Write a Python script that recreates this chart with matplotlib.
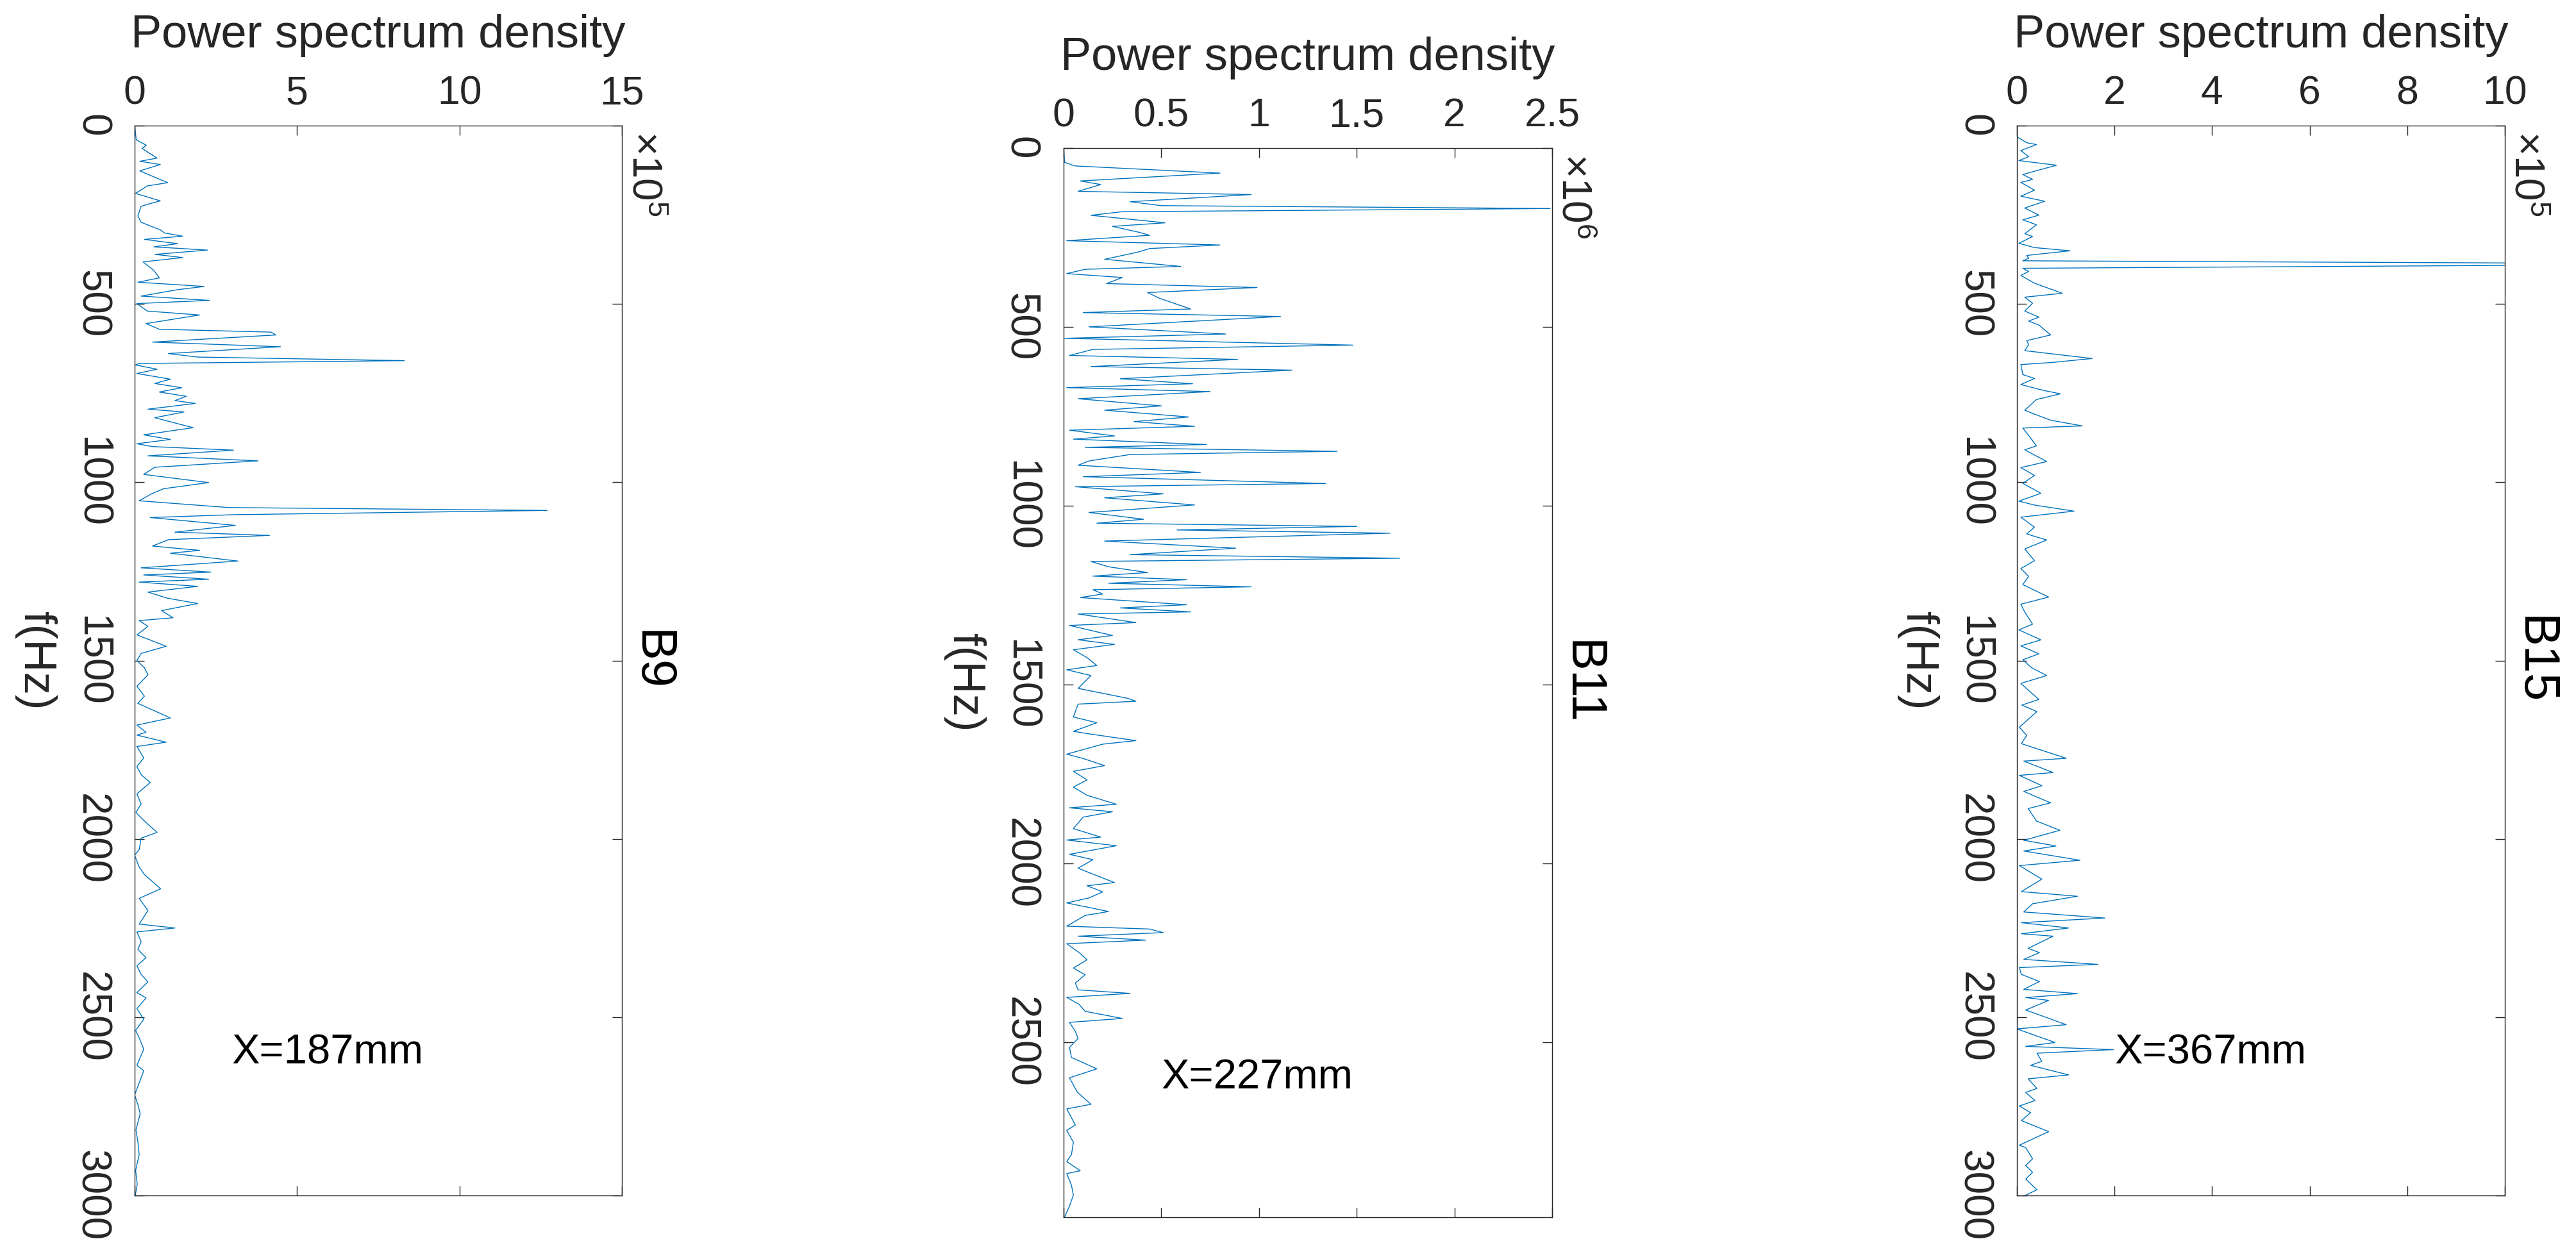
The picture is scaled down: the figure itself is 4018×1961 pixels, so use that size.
import matplotlib
matplotlib.use("Agg")
import matplotlib.pyplot as plt
import matplotlib.transforms as mtransforms

plt.rcParams['font.family'] = ['Liberation Sans', 'DejaVu Sans']
plt.rcParams['mathtext.fontset'] = 'custom'
plt.rcParams['mathtext.rm'] = 'Liberation Sans'
plt.rcParams['mathtext.it'] = 'Liberation Sans:italic'

# ---------------- data ----------------
# B9 (X=187mm): frequency (Hz) and PSD in units of 1e5
f_b9 = [0, 40, 55, 64, 91, 100, 109, 127, 160, 169, 190, 211, 226, 253, 271, 283, 292, 301, 310, 319,
        331, 340, 349, 361, 370, 382, 406, 427, 439, 451, 460, 478, 490, 499, 520, 531, 555, 571, 579, 587,
        607, 620, 639, 649, 659, 667, 671, 683, 695, 711, 723, 735, 747, 759, 771, 779, 795, 803, 819, 847,
        867, 880, 892, 900, 910, 926, 940, 958, 978, 1001, 1018, 1031, 1052, 1071, 1079, 1091, 1099, 1121,
        1140, 1149, 1161, 1179, 1191, 1199, 1221, 1240, 1252, 1260, 1272, 1280, 1292, 1308, 1325, 1340,
        1360, 1380, 1388, 1404, 1428, 1460, 1480, 1500, 1520, 1540, 1572, 1600, 1620, 1661, 1681, 1701,
        1709, 1729, 1741, 1773, 1797, 1820, 1842, 1874, 1902, 1926, 1950, 1982, 1998, 2030, 2046, 2079,
        2100, 2140, 2167, 2201, 2239, 2250, 2261, 2288, 2310, 2333, 2356, 2380, 2401, 2431, 2446, 2476,
        2506, 2537, 2560, 2590, 2635, 2650, 2677, 2718, 2745, 2771, 2816, 2850, 2885, 2930, 2968, 3000]
psd_b9 = [0, 0.05, 0.36, 0.23, 0.69, 0.16, 0.79, 0.16, 1.02, 0.39, 0.03, 0.79, 0.2, 0.1, 0.2, 0.53, 0.79, 0.92, 1.48, 0.3,
          1.32, 0.59, 2.24, 0.63, 1.48, 0.26, 0.59, 0.76, 0.1, 2.14, 1.32, 0.2, 2.3, 0.07, 0.39, 2.0, 0.35, 0.76, 4.2, 4.35,
          0.55, 4.49, 1.04, 1.94, 8.3, 0.14, 0.02, 0.69, 0.07, 1.1, 0.62, 1.45, 0.76, 1.59, 1.24, 1.87, 0.41, 1.52, 0.62, 1.8,
          0.28, 1.1, 0.07, 0.55, 3.04, 0.41, 3.8, 0.62, 0.28, 2.28, 0.9, 0.55, 0.14, 2.9, 12.7, 3.04, 0.48, 3.1,
          1.24, 4.15, 1.04, 0.55, 2.0, 1.1, 3.18, 0.2, 2.35, 0.28, 2.28, 0.14, 1.94, 0.41, 1.0, 1.94,
          0.83, 1.18, 0.14, 0.41, 0.07, 0.97, 0.2, 0.07, 0.3, 0.41, 0.07, 0.3, 0.1, 1.1, 0.07, 0.35,
          0.07, 0.97, 0.07, 0.28, 0.07, 0.2, 0.48, 0.07, 0.2, 0.04, 0.3, 0.69, 0.2, 0.14, 0.0, 0.14,
          0.3, 0.8, 0.14, 0.41, 0.14, 1.24, 0.07, 0.2, 0.1, 0.35, 0.07, 0.2, 0.41, 0.07, 0.35, 0.07,
          0.28, 0.03, 0.15, 0.28, 0.07, 0.28, 0.17, 0.0, 0.1, 0.17, 0.04, 0.1, 0.14, 0.03, 0.08, 0.02]

# B11 (X=227mm): frequency (Hz) and PSD in units of 1e6
f_b11 = [0, 40, 50, 70, 92, 102, 121, 130, 150, 161, 169, 178, 188, 209, 219, 236, 244, 259, 271, 281,
         291, 311, 331, 339, 351, 362, 379, 390, 404, 420, 450, 460, 471, 500, 520, 532, 551, 563, 580, 591,
         611, 621, 645, 659, 670, 681, 701, 721, 733, 752, 765, 778, 789, 805, 814, 829, 837, 848, 857, 875,
         887, 907, 919, 938, 947, 967, 978, 998, 1019, 1038, 1049, 1058, 1068, 1077, 1099, 1119, 1137, 1147,
         1156, 1171, 1187, 1197, 1207, 1217, 1227, 1235, 1247, 1257, 1277, 1286, 1297, 1303, 1327, 1335,
         1363, 1375, 1388, 1403, 1425, 1447, 1459, 1475, 1511, 1539, 1547, 1555, 1591, 1607, 1631, 1639,
         1657, 1667, 1695, 1707, 1727, 1743, 1767, 1787, 1810, 1835, 1845, 1856, 1871, 1903, 1927, 1935,
         1951, 1975, 1990, 2014, 2054, 2063, 2080, 2097, 2111, 2135, 2146, 2176, 2184, 2194, 2204, 2215,
         2225, 2250, 2270, 2293, 2312, 2335, 2354, 2364, 2375, 2395, 2414, 2434, 2445, 2470, 2490, 2515,
         2543, 2575, 2600, 2640, 2674, 2687, 2732, 2747, 2780, 2815, 2834, 2860, 2868, 2900, 2928, 2959, 2989]
psd_b11 = [0, 0.005, 0.06, 0.8, 0.085, 0.19, 0.074, 0.96, 0.34, 0.5, 2.49, 0.3, 0.14, 0.52, 0.25, 0.39, 0.44, 0.016, 0.8, 0.44,
           0.38, 0.21, 0.6, 0.11, 0.016, 0.3, 0.22, 0.99, 0.43, 0.49, 0.65, 0.1, 1.11, 0.13, 0.83, 0.005, 1.48, 0.15, 0.03, 0.89,
           0.14, 1.17, 0.29, 0.66, 0.016, 0.75, 0.074, 0.5, 0.21, 0.64, 0.36, 0.67, 0.03, 0.26, 0.05, 0.73, 0.11, 1.4, 0.34, 0.13,
           0.074, 0.7, 0.1, 1.34, 0.06, 0.51, 0.21, 0.67, 0.13, 0.41, 0.17, 1.5, 0.58, 1.67, 0.21, 0.88, 0.34, 1.72,
           0.14, 0.23, 0.43, 0.15, 0.63, 0.23, 0.96, 0.15, 0.2, 0.085, 0.63, 0.29, 0.65, 0.074, 0.37, 0.03,
           0.25, 0.074, 0.26, 0.05, 0.12, 0.17, 0.016, 0.14, 0.074, 0.33, 0.37, 0.074, 0.05, 0.17, 0.05, 0.14,
           0.37, 0.2, 0.016, 0.1, 0.21, 0.05, 0.12, 0.05, 0.12, 0.27, 0.03, 0.25, 0.1, 0.05, 0.19, 0.016,
           0.27, 0.03, 0.15, 0.074, 0.26, 0.12, 0.2, 0.13, 0.016, 0.23, 0.11, 0.016, 0.44, 0.51, 0.074, 0.42,
           0.016, 0.08, 0.12, 0.05, 0.11, 0.06, 0.074, 0.34, 0.016, 0.08, 0.11, 0.3, 0.03, 0.06, 0.074, 0.03,
           0.04, 0.17, 0.03, 0.07, 0.14, 0.016, 0.06, 0.016, 0.05, 0.04, 0.016, 0.085, 0.016, 0.04, 0.05, 0.03, 0.005]

# B15 (X=367mm): frequency (Hz) and PSD in units of 1e5
f_b15 = [0, 31, 48, 53, 70, 87, 98, 111, 137, 151, 159, 181, 198, 212, 231, 251, 264, 278, 303, 311,
         330, 342, 351, 364, 372, 379, 388, 400, 409, 420, 442, 470, 481, 498, 520, 537, 548, 559, 587, 603,
         614, 631, 653, 664, 670, 698, 709, 726, 742, 752, 768, 798, 809, 826, 842, 848, 876, 898, 909, 942,
         959, 981, 1003, 1031, 1053, 1064, 1081, 1098, 1126, 1145, 1162, 1187, 1220, 1242, 1264, 1287, 1322,
         1342, 1364, 1398, 1414, 1442, 1459, 1481, 1498, 1520, 1542, 1564, 1585, 1609, 1625, 1643, 1687,
         1710, 1733, 1774, 1782, 1814, 1822, 1851, 1867, 1899, 1915, 1950, 1976, 2004, 2020, 2034, 2060,
         2075, 2113, 2148, 2161, 2182, 2205, 2222, 2235, 2250, 2266, 2273, 2307, 2319, 2338, 2352, 2361,
         2380, 2400, 2422, 2434, 2445, 2453, 2480, 2521, 2533, 2571, 2582, 2591, 2601, 2624, 2635, 2662,
         2673, 2700, 2711, 2734, 2749, 2768, 2790, 2821, 2859, 2866, 2897, 2916, 2935, 2954, 2984, 3002]
psd_b15 = [0, 0, 0.2, 0.4, 0.08, 0.24, 0.04, 0.81, 0.12, 0.32, 0.08, 0.36, 0.08, 0.57, 0.16, 0.45, 0.12, 0.4, 0.16, 0.32,
           0.04, 0.36, 1.09, 0.2, 0.24, 0.12, 14.8, 0.12, 0.24, 0.08, 0.36, 0.93, 0.16, 0.32, 0.16, 0.45, 0.24, 0.45, 0.69, 0.2,
           0.24, 0.16, 1.54, 0.73, 0.08, 0.12, 0.36, 0.08, 0.53, 0.89, 0.4, 0.16, 0.36, 0.69, 1.34, 0.12, 0.28, 0.4, 0.16, 0.61,
           0.08, 0.36, 0.12, 0.49, 0.04, 0.36, 1.17, 0.08, 0.36, 0.2, 0.61, 0.16, 0.36, 0.08, 0.24, 0.12, 0.65,
           0.08, 0.16, 0.32, 0.04, 0.49, 0.08, 0.45, 0.12, 0.3, 0.61, 0.08, 0.25, 0.45, 0.1, 0.41, 0.05,
           0.2, 0.09, 1.01, 0.14, 0.74, 0.05, 0.51, 0.14, 0.69, 0.23, 0.4, 0.88, 0.14, 0.8, 0.14, 1.29,
           0.05, 0.51, 0.09, 1.24, 0.32, 0.14, 1.8, 0.09, 1.06, 0.09, 0.74, 0.23, 0.46, 0.14, 1.66, 0.05,
           0.09, 0.46, 0.14, 1.24, 0.18, 0.65, 0.18, 1.01, 0.0, 0.78, 0.18, 1.98, 0.41, 0.51, 0.28, 1.06,
           0.23, 0.41, 0.18, 0.37, 0.05, 0.28, 0.09, 0.65, 0.05, 0.18, 0.32, 0.18, 0.32, 0.18, 0.41, 0.14]

titles = ["B9", "B11", "B15"]
positions_text = ["X=187mm", "X=227mm", "X=367mm"]
exponents = [5, 6, 5]
x_ticks = [[0, 5, 10, 15], [0, 0.5, 1, 1.5, 2, 2.5], [0, 2, 4, 6, 8, 10]]
x_ticklabels = [["0", "5", "10", "15"], ["0", "0.5", "1", "1.5", "2", "2.5"],
                ["0", "2", "4", "6", "8", "10"]]
y_ticks = [[0, 500, 1000, 1500, 2000, 2500, 3000], [0, 500, 1000, 1500, 2000, 2500],
           [0, 500, 1000, 1500, 2000, 2500, 3000]]
f_max = [3000, 2990, 3000]
xlabel_text = "Power spectrum density"
ylabel_text = "f(Hz)"

freqs = [f_b9, f_b11, f_b15]
psds = [psd_b9, psd_b11, psd_b15]

# ---------------- layout ----------------
W, H = 4018, 1961
fig = plt.figure(figsize=(W / 100, H / 100), dpi=100)
boxes = [(210, 196, 760, 1669), (1659, 231, 762, 1668), (3146, 196, 761, 1669)]  # left, top, w, h (px)
# annotation anchor (data units: psd, f)
annot_xy = [(3.0, 2600), (0.5, 2600), (2.0, 2600)]

PX = 0.72  # points per pixel at dpi 100
line_color = '#0072BD'
axis_color = '#262626'

for i in range(3):
    l, t, w, h = boxes[i]
    ax = fig.add_axes([l / W, 1 - (t + h) / H, w / W, h / H])
    ax.plot(psds[i], freqs[i], color=line_color, lw=1.0)
    ax.set_xlim(x_ticks[i][0], x_ticks[i][-1])
    ax.set_ylim(f_max[i], 0)

    for s in ax.spines.values():
        s.set_color(axis_color)
        s.set_linewidth(1.0)

    ax.set_xticks(x_ticks[i])
    ax.set_xticklabels(x_ticklabels[i])
    ax.tick_params(axis='x', which='both', top=True, bottom=True, labeltop=True,
                   labelbottom=False, direction='in', length=15 * PX, width=1.0,
                   pad=15, labelsize=45, colors=axis_color)
    ax.set_yticks(y_ticks[i])
    ax.set_yticklabels([str(v) for v in y_ticks[i]], rotation=-90, va='center', ha='right')
    ax.tick_params(axis='y', which='both', left=True, right=True, labelleft=True,
                   labelright=False, direction='in', length=15 * PX, width=1.0,
                   pad=27, labelsize=46, colors=axis_color)

    # x label on top
    tr = mtransforms.offset_copy(ax.transAxes, fig=fig, x=0, y=122 * PX, units='points')
    ax.text(0.5, 1.0, xlabel_text, transform=tr, ha='center', va='baseline',
            fontsize=52, color=axis_color)
    # y label (rotated)
    tr = mtransforms.offset_copy(ax.transAxes, fig=fig, x=-173 * PX, y=0, units='points')
    ax.text(0.0, 0.5, ylabel_text, transform=tr, rotation=-90, rotation_mode='anchor',
            ha='center', va='baseline', fontsize=51, color=axis_color)
    # title on right side
    tr = mtransforms.offset_copy(ax.transAxes, fig=fig, x=25 * PX, y=0, units='points')
    ax.text(1.0, 0.5, titles[i], transform=tr, rotation=-90, rotation_mode='anchor',
            ha='center', va='baseline', fontsize=56, color='black')
    # exponent label
    tr = mtransforms.offset_copy(ax.transAxes, fig=fig, x=16 * PX, y=-8 * PX, units='points')
    ax.text(1.0, 1.0, r'$\mathregular{\times10^{%d}}$' % exponents[i], transform=tr,
            rotation=-90, rotation_mode='anchor', ha='left', va='baseline',
            fontsize=46, color=axis_color)
    # position annotation
    ax.text(annot_xy[i][0], annot_xy[i][1], positions_text[i], ha='left', va='center',
            fontsize=47, color='black')

fig.savefig('out.png', dpi=100, facecolor='white')
